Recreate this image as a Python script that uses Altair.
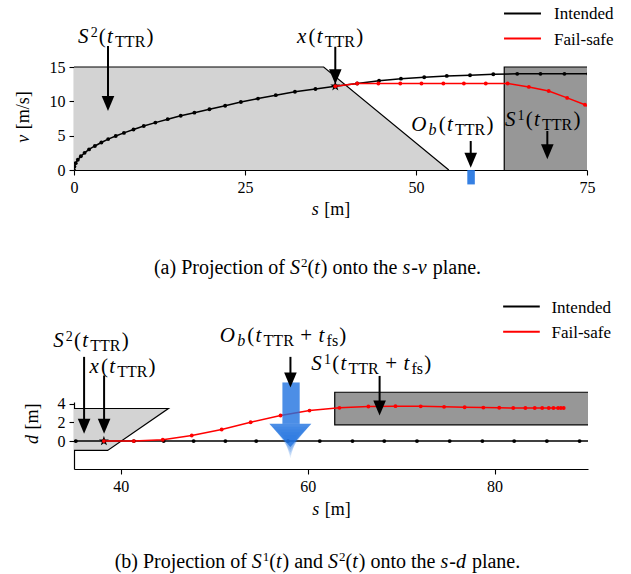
import altair as alt
import pandas as pd

SERIF = "Liberation Serif"

# ---------------- (a) s-v plane data ----------------
int_s = [0.0, 0.06, 0.25, 0.56, 1.0, 1.55, 2.2, 3.05, 4.0, 5.0, 6.1, 7.3, 8.7, 10.2, 11.9,
         13.7, 15.6, 17.6, 19.8, 22.1, 24.4, 26.9, 29.5, 32.3, 35.3, 38.2, 41.4, 44.6,
         47.8, 51.2, 54.5, 57.9, 61.3, 64.8, 68.2, 71.7, 75.2]
int_v = [0.0, 0.5, 1.0, 1.5, 2.0, 2.5, 3.0, 3.5, 4.0, 4.5, 4.95, 5.4, 5.9, 6.4, 6.9,
         7.4, 7.9, 8.35, 8.85, 9.35, 9.9, 10.4, 10.9, 11.4, 11.8, 12.2, 12.6, 13.0,
         13.3, 13.5, 13.7, 13.8, 13.95, 14.0, 14.0, 14.0, 14.0]
fs_s = [38.2, 41.4, 44.5, 47.7, 50.8, 54.0, 57.0, 60.2, 63.4, 66.5, 69.4, 72.1, 74.7, 77.0]
fs_v = [12.2, 12.6, 12.6, 12.6, 12.6, 12.6, 12.6, 12.6, 12.6, 12.1, 11.5, 10.5, 9.5, 8.3]

top_s2_s = [0.0, 36.5, 54.8]
top_s2_lo = [0.0, 0.0, 0.0]
top_s2_hi = [15.0, 15.0, 0.0]
top_s1_box = [62.9, 75.0, 0.0, 15.0]          # s0, s1, v0, v1
top_obs_box = [57.5, 58.6, -2.1, 0.0]
top_star = [38.2, 12.2]

# ---------------- (b) s-d plane data ----------------
bint_s = [32.0, 35.2, 38.2, 41.4, 44.6, 47.8, 51.2, 54.5, 57.9, 61.3, 64.8, 68.2, 71.7,
          75.2, 78.7, 82.1, 85.6, 89.1, 92.6]
bint_d = [0.0] * len(bint_s)
bfs_s = [38.2, 41.4, 44.5, 47.6, 50.8, 53.9, 57.1, 60.2, 63.4, 66.5, 69.4, 72.1, 74.6,
         76.8, 78.8, 80.5, 82.0, 83.3, 84.3, 85.1, 85.8, 86.3, 86.8, 87.1, 87.4]
bfs_d = [0.0, 0.0, 0.14, 0.6, 1.25, 2.03, 2.75, 3.28, 3.57, 3.71, 3.75, 3.73, 3.68,
         3.64, 3.6, 3.58, 3.56, 3.56, 3.55, 3.55, 3.55, 3.55, 3.55, 3.55, 3.55]

bot_s2_s = [35.0, 38.6, 45.1]
bot_s2_lo = [-1.0, -1.0, 3.5]
bot_s2_hi = [3.5, 3.5, 3.5]
bot_s1_box = [62.9, 90.0, 1.75, 5.25]
bot_star = [38.2, 0.0]

obs_shaft_box = [57.3, 59.15, 1.85, 6.3]
obs_head_s = [55.9, 58.15, 60.4]
obs_head_lo = [1.85, -0.64, 1.85]
obs_head_hi = [1.85, 1.85, 1.85]
obs_shift = [0.0, -0.3, -0.6, -0.9, -1.2]
obs_scale = [1.0, 0.85, 0.65, 0.45, 0.3]
obs_alpha = [0.8, 0.2, 0.18, 0.16, 0.14]

# annotation arrows: s, start, tip
top_arr_s = [4.97, 38.2, 58.0, 69.2]
top_arr_from = [18.06, 17.95, 4.22, 5.68]
top_arr_tip = [8.59, 12.5, 0.33, 1.56]
bot_arr_s = [36.08, 38.22, 58.16, 67.7]
bot_arr_from = [9.05, 7.05, 9.05, 7.0]
bot_arr_tip = [0.78, 0.78, 5.75, 2.75]

# legend entries (line start/end, row positions, label start)
SERIES = ["Intended", "Fail-safe"]
COLORS = ["black", "red"]
top_leg_x = [62.87, 68.27]
top_leg_y = [22.8, 19.15]
top_leg_tx = 70.18
bot_leg_x = [80.92, 84.84]
bot_leg_y = [14.45, 11.75]
bot_leg_tx = 86.09

# ---------------- geometry ----------------
W_T, H_T = 513, 103
W_B, H_B = 514, 67
XD_T, YD_T = [0, 75], [0, 15]
XD_B, YD_B = [35, 90], [-3, 4.2]
PXX_T, PXY_T = W_T / 75.0, H_T / 15.0
PXX_B, PXY_B = W_B / 55.0, H_B / 7.2

HEAD = "M-0.42,-1L0.42,-1L0,0Z"
STAR = ("M0,-1L0.235,-0.324L0.951,-0.309L0.38,0.124L0.588,0.809L0,0.4L-0.588,0.809"
        "L-0.38,0.124L-0.951,-0.309L-0.235,-0.324Z")

# Times-like advance widths (per 1000 em)
W_REG = {" ": 250, "(": 333, ")": 333, "+": 564, "-": 333, ".": 250, "/": 278, "[": 333,
         "]": 333, "P": 556, "S": 556, "T": 611, "R": 667, "O": 722, "I": 333,
         "a": 444, "b": 500, "c": 444, "d": 500, "e": 444, "f": 333, "g": 500, "h": 500,
         "i": 278, "j": 278, "k": 500, "l": 278, "m": 778, "n": 500, "o": 500, "p": 500,
         "q": 500, "r": 333, "s": 389, "t": 278, "u": 500, "v": 500, "w": 722, "x": 500,
         "y": 500, "z": 444}
W_ITA = {"S": 500, "O": 722, "b": 500, "d": 500, "s": 389, "t": 278, "v": 444, "x": 444,
         "f": 278}


def text_w(t, ital, size):
    tab = W_ITA if ital else W_REG
    return sum(tab.get(c, W_REG.get(c, 500)) for c in t) / 1000.0 * size


def pieces(spec, ax, ay, pxx, pxy, align="left", rotate=False, gap=0.0):
    widths = [text_w(t, it, sz) + (1.0 if it else 0.0) + gap for t, it, sz, dy in spec]
    off = -sum(widths) / 2.0 if align == "center" else 0.0
    rows = []
    for (t, it, sz, dy), w in zip(spec, widths):
        lead = len(t) - len(t.lstrip(" "))
        o = off + (text_w(" " * lead, False, sz) if lead else 0.0)
        if rotate:
            rows.append({"x": ax + dy / pxx, "y": ay + o / pxy, "t": t.strip(), "fs": sz, "it": it})
        else:
            rows.append({"x": ax + o / pxx, "y": ay - dy / pxy, "t": t.strip(), "fs": sz, "it": it})
        off += w
    return rows


M, SUP, SUB = 21, 14, 16
SUPDY, SUBDY = -6, 4
C, CS = 20, 13
T = 18
GAP = 1.2


def lab_S(n, fs_part=False):
    out = [("S", True, M, 0), (n, False, SUP, SUPDY), ("(", False, M, 0), ("t", True, M, 0),
           ("TTR", False, SUB, SUBDY)]
    if fs_part:
        out += [(" + ", False, M, 0), ("t", True, M, 0), ("fs", False, SUB, SUBDY)]
    return out + [(")", False, M, 0)]


lab_x = [("x", True, M, 0), ("(", False, M, 0), ("t", True, M, 0), ("TTR", False, SUB, SUBDY),
         (")", False, M, 0)]
lab_Ob = [("O", True, M, 0), ("b", True, SUB, SUBDY), ("(", False, M, 0), ("t", True, M, 0),
          ("TTR", False, SUB, SUBDY), (")", False, M, 0)]
lab_Ob_fs = [("O", True, M, 0), ("b", True, SUB, SUBDY), ("(", False, M, 0), ("t", True, M, 0),
             ("TTR", False, SUB, SUBDY), (" + ", False, M, 0), ("t", True, M, 0),
             ("fs", False, SUB, SUBDY), (")", False, M, 0)]
lab_sm = [("s", True, T, 0), (" [m]", False, T, 0)]
lab_vms = [("v", True, T, 0), (" [m/s]", False, T, 0)]
lab_dm = [("d", True, T, 0), (" [m]", False, T, 0)]
cap_a = [("(a) Projection of ", False, C, 0), ("S", True, C, 0), ("2", False, CS, -7),
         ("(", False, C, 0), ("t", True, C, 0), (")", False, C, 0), (" onto the ", False, C, 0),
         ("s", True, C, 0), ("-", False, C, 0), ("v", True, C, 0), (" plane.", False, C, 0)]
cap_b = [("(b) Projection of ", False, C, 0), ("S", True, C, 0), ("1", False, CS, -7),
         ("(", False, C, 0), ("t", True, C, 0), (")", False, C, 0), (" and ", False, C, 0),
         ("S", True, C, 0), ("2", False, CS, -7), ("(", False, C, 0), ("t", True, C, 0),
         (")", False, C, 0), (" onto the ", False, C, 0), ("s", True, C, 0),
         ("-", False, C, 0), ("d", True, C, 0), (" plane.", False, C, 0)]


def axes(xd, yd, xt, yt):
    X = alt.X("x:Q", scale=alt.Scale(domain=xd, nice=False, zero=False),
              axis=alt.Axis(values=xt, title=None, labelFlush=False, labelOverlap=False))
    Y = alt.Y("y:Q", scale=alt.Scale(domain=yd, nice=False, zero=False),
              axis=alt.Axis(values=yt, title=None, labelOverlap=False))
    return X, Y


def text_layers(rows, X, Y, angle=0):
    df = pd.DataFrame(rows)
    out = []
    for it, style in [(True, "italic"), (False, "normal")]:
        sub = df[df["it"] == it].drop(columns="it")
        if len(sub):
            out.append(alt.Chart(sub).mark_text(font=SERIF, fontStyle=style, align="left",
                                                baseline="alphabetic", color="black", angle=angle)
                       .encode(x=X, y=Y, text="t:N", size=alt.Size("fs:Q", scale=None)))
    return out


def arrow_layers(s, y0, tip, X, Y, pxy):
    df = pd.DataFrame({"x": s, "y": y0, "y2": [t + 9.0 / pxy for t in tip]})
    shaft = alt.Chart(df).mark_rule(color="black", strokeWidth=2).encode(x=X, y=Y, y2=alt.Y2("y2:Q"))
    hd = pd.DataFrame({"x": s, "y": tip})
    head = alt.Chart(hd).mark_point(shape=HEAD, filled=True, size=900, color="black",
                                    opacity=1, strokeWidth=0).encode(x=X, y=Y)
    return [shaft, head]


def outline(xs, ys, X, Y):
    df = pd.DataFrame({"x": xs, "y": ys, "o": list(range(len(xs)))})
    return alt.Chart(df).mark_line(color="black", strokeWidth=1.2).encode(x=X, y=Y, order="o:Q")


CSCALE = alt.Scale(domain=SERIES, range=COLORS)


def series_layers(s1, y1, s2, y2, X, Y):
    df = pd.DataFrame({"x": s1 + s2, "y": y1 + y2,
                       "series": [SERIES[0]] * len(s1) + [SERIES[1]] * len(s2)})
    lines = alt.Chart(df).mark_line(strokeWidth=1.5, clip=True).encode(
        x=X, y=Y, color=alt.Color("series:N", scale=CSCALE, legend=None), detail="series:N")
    p1 = alt.Chart(pd.DataFrame({"x": s1, "y": y1})).mark_circle(
        color="black", size=15, opacity=1, clip=True).encode(x=X, y=Y)
    p2 = alt.Chart(pd.DataFrame({"x": s2, "y": y2})).mark_circle(
        color="red", size=15, opacity=1, clip=True).encode(x=X, y=Y)
    return [lines, p1, p2]


def legend_layers(lx, ly, tx, pxy, X, Y):
    df = pd.DataFrame({"x": [lx[0]] * 2, "x2": [lx[1]] * 2, "y": ly, "series": SERIES})
    rules = alt.Chart(df).mark_rule(strokeWidth=2).encode(
        x=X, x2=alt.X2("x2:Q"), y=Y, color=alt.Color("series:N", scale=CSCALE, legend=None))
    tdf = pd.DataFrame({"x": [tx] * 2, "y": [v - 6.0 / pxy for v in ly], "t": SERIES})
    texts = alt.Chart(tdf).mark_text(font=SERIF, fontSize=17, align="left",
                                     baseline="alphabetic", color="black").encode(
        x=X, y=Y, text="t:N")
    return [rules, texts]


def star_layer(pt, X, Y):
    return alt.Chart(pd.DataFrame({"x": [pt[0]], "y": [pt[1]]})).mark_point(
        shape=STAR, filled=True, size=110, color="black", opacity=1).encode(x=X, y=Y)


def box_rect(box, color, op, X, Y):
    return alt.Chart(pd.DataFrame({"x": [box[0]], "x2": [box[1]], "y": [box[2]], "y2": [box[3]]})
                     ).mark_rect(color=color, opacity=op).encode(
        x=X, x2=alt.X2("x2:Q"), y=Y, y2=alt.Y2("y2:Q"))


# ================= top chart =================
Xt, Yt = axes(XD_T, YD_T, [0, 25, 50, 75], [0, 5, 10, 15])
top_layers = [
    alt.Chart(pd.DataFrame({"x": top_s2_s, "y": top_s2_lo, "y2": top_s2_hi})).mark_area(
        color="#d3d3d3", opacity=1).encode(x=Xt, y=Yt, y2=alt.Y2("y2:Q")),
    box_rect(top_s1_box, "#979797", 1, Xt, Yt),
    box_rect(top_obs_box, "#1f72e0", 0.9, Xt, Yt),
    outline(top_s2_s, top_s2_hi, Xt, Yt),
    outline([top_s1_box[0], top_s1_box[0], top_s1_box[1]],
            [top_s1_box[2], top_s1_box[3], top_s1_box[3]], Xt, Yt),
    star_layer(top_star, Xt, Yt),
]
top_layers += series_layers(int_s, int_v, fs_s, fs_v, Xt, Yt)
top_layers += arrow_layers(top_arr_s, top_arr_from, top_arr_tip, Xt, Yt, PXY_T)
top_layers += legend_layers(top_leg_x, top_leg_y, top_leg_tx, PXY_T, Xt, Yt)
top_rows = (pieces(lab_S("2"), 0.58, 18.5, PXX_T, PXY_T, gap=GAP)
            + pieces(lab_x, 32.6, 18.5, PXX_T, PXY_T, gap=GAP)
            + pieces(lab_Ob, 49.3, 5.68, PXX_T, PXY_T, gap=GAP)
            + pieces(lab_S("1"), 63.0, 6.4, PXX_T, PXY_T, gap=GAP)
            + pieces(lab_sm, 37.57, -6.55, PXX_T, PXY_T, align="center")
            + pieces(cap_a, 35.6, -15.1, PXX_T, PXY_T, align="center"))
top_layers += text_layers(top_rows, Xt, Yt)
top_layers += text_layers(pieces(lab_vms, -6.58, 7.72, PXX_T, PXY_T, align="center", rotate=True),
                          Xt, Yt, angle=270)
top = alt.layer(*top_layers).properties(width=W_T, height=H_T)

# ================= bottom chart =================
Xb, Yb = axes(XD_B, YD_B, [40, 60, 80], [0, 2, 4])
head_rows = []
for k, (sh, sc, al) in enumerate(zip(obs_shift, obs_scale, obs_alpha)):
    c = obs_head_s[1]
    for s, lo, hi in zip(obs_head_s, obs_head_lo, obs_head_hi):
        head_rows.append({"x": c + (s - c) * sc, "y": lo + sh, "y2": hi + sh, "op": al, "k": k})
bot_layers = [
    alt.Chart(pd.DataFrame({"x": bot_s2_s, "y": bot_s2_lo, "y2": bot_s2_hi})).mark_area(
        color="#d3d3d3", opacity=1).encode(x=Xb, y=Yb, y2=alt.Y2("y2:Q")),
    box_rect(bot_s1_box, "#979797", 1, Xb, Yb),
    outline([bot_s2_s[0], bot_s2_s[2], bot_s2_s[1], bot_s2_s[0]],
            [bot_s2_hi[0], bot_s2_hi[2], bot_s2_lo[1], bot_s2_lo[0]], Xb, Yb),
    outline([bot_s1_box[1], bot_s1_box[0], bot_s1_box[0], bot_s1_box[1]],
            [bot_s1_box[2], bot_s1_box[2], bot_s1_box[3], bot_s1_box[3]], Xb, Yb),
    star_layer(bot_star, Xb, Yb),
]
bot_layers += series_layers(bint_s, bint_d, bfs_s, bfs_d, Xb, Yb)
bot_layers += [
    box_rect(obs_shaft_box, "#1f72e0", 0.8, Xb, Yb),
    alt.Chart(pd.DataFrame(head_rows)).mark_area(color="#1f72e0").encode(
        x=Xb, y=Yb, y2=alt.Y2("y2:Q"), opacity=alt.Opacity("op:Q", scale=None), detail="k:N"),
]
bot_layers += arrow_layers(bot_arr_s, bot_arr_from, bot_arr_tip, Xb, Yb, PXY_B)
bot_layers += legend_layers(bot_leg_x, bot_leg_y, bot_leg_tx, PXY_B, Xb, Yb)
bot_rows = (pieces(lab_S("2"), 32.77, 10.1, PXX_B, PXY_B, gap=GAP)
            + pieces(lab_x, 36.65, 7.3, PXX_B, PXY_B, gap=GAP)
            + pieces(lab_Ob_fs, 50.6, 10.6, PXX_B, PXY_B, gap=GAP)
            + pieces(lab_S("1", True), 60.4, 7.6, PXX_B, PXY_B, gap=GAP)
            + pieces(lab_sm, 62.55, -7.92, PXX_B, PXY_B, align="center")
            + pieces(cap_b, 61.05, -13.6, PXX_B, PXY_B, align="center"))
bot_layers += text_layers(bot_rows, Xb, Yb)
bot_layers += text_layers(pieces(lab_dm, 31.13, 1.86, PXX_B, PXY_B, align="center", rotate=True),
                          Xb, Yb, angle=270)
bottom = alt.layer(*bot_layers).properties(width=W_B, height=H_B)

chart = (alt.vconcat(top, bottom, spacing=20)
         .resolve_scale(x="independent", y="independent", color="independent")
         .properties(padding={"left": 14, "top": 5, "right": 5, "bottom": 5})
         .configure_view(stroke=None)
         .configure_axis(labelFont=SERIF, labelFontSize=16, labelColor="black",
                         tickColor="black", domainColor="black", tickSize=5, tickWidth=1.1,
                         domainWidth=1.2, grid=False, labelPadding=4))

chart.save("out.html", embed_options={"renderer": "svg", "actions": False})
